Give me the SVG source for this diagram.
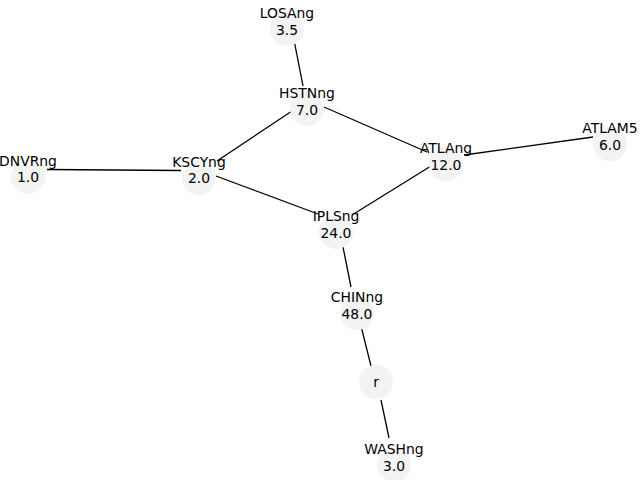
<svg xmlns="http://www.w3.org/2000/svg" width="640" height="480" viewBox="0 0 640 480">
  <style>
    .node circle { fill: #f3f3f3; }
    .node text { font-family: "DejaVu Sans", sans-serif; font-size: 13.9px; fill: #000; text-anchor: middle; }
    .edges line { stroke: #000; stroke-width: 1.3; stroke-linecap: butt; }
  </style>
  <rect width="640" height="480" fill="#fff"/>

  <g id="edges" class="edges">
    <line x1="294" y1="40" x2="303" y2="86"/>
    <line x1="292" y1="111" x2="217" y2="161"/>
    <line x1="324" y1="107" x2="427" y2="152"/>
    <line x1="47" y1="169.5" x2="181" y2="170.5"/>
    <line x1="216" y1="176" x2="318" y2="214"/>
    <line x1="464" y1="155" x2="593" y2="137"/>
    <line x1="431" y1="166" x2="352" y2="215"/>
    <line x1="342" y1="242" x2="351" y2="287"/>
    <line x1="361" y1="326" x2="371" y2="366"/>
    <line x1="381" y1="400" x2="389" y2="438"/>
  </g>

  <g id="LOSAng" class="node">
    <circle cx="287" cy="29" r="17"/>
    <text x="287" y="18">LOSAng</text>
    <text x="287" y="34.5">3.5</text>
  </g>
  <g id="HSTNng" class="node">
    <circle cx="307" cy="109" r="17"/>
    <text x="307" y="98">HSTNng</text>
    <text x="307" y="114.5">7.0</text>
  </g>
  <g id="DNVRng" class="node">
    <circle cx="28" cy="177" r="17"/>
    <text x="28" y="165.5">DNVRng</text>
    <text x="28" y="182">1.0</text>
  </g>
  <g id="KSCYng" class="node">
    <circle cx="199" cy="178" r="17"/>
    <text x="199" y="166.5">KSCYng</text>
    <text x="199" y="183">2.0</text>
  </g>
  <g id="ATLAng" class="node">
    <circle cx="446" cy="164" r="17"/>
    <text x="446" y="153">ATLAng</text>
    <text x="446" y="169.5">12.0</text>
  </g>
  <g id="ATLAM5" class="node">
    <circle cx="610" cy="144" r="17"/>
    <text x="610" y="133">ATLAM5</text>
    <text x="610" y="149.5">6.0</text>
  </g>
  <g id="IPLSng" class="node">
    <circle cx="336" cy="232" r="17"/>
    <text x="336" y="221">IPLSng</text>
    <text x="336" y="237.5">24.0</text>
  </g>
  <g id="CHINng" class="node">
    <circle cx="357" cy="313" r="17"/>
    <text x="357" y="302">CHINng</text>
    <text x="357" y="318.5">48.0</text>
  </g>
  <g id="r" class="node">
    <circle cx="376" cy="382" r="17"/>
    <text x="376" y="387">r</text>
  </g>
  <g id="WASHng" class="node">
    <circle cx="394" cy="465" r="17"/>
    <text x="394" y="454">WASHng</text>
    <text x="394" y="470.5">3.0</text>
  </g>
</svg>
